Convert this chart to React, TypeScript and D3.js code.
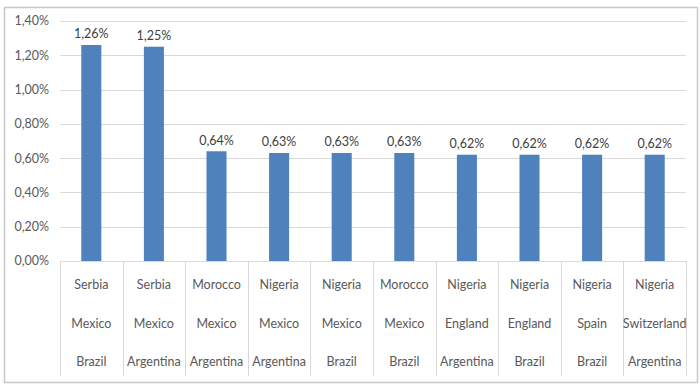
import { useEffect, useRef } from "react"
import * as d3 from "d3"

// three-level category labels (top row to bottom row)
const level1 = ["Serbia", "Serbia", "Morocco", "Nigeria", "Nigeria", "Morocco", "Nigeria", "Nigeria", "Nigeria", "Nigeria"]
const level2 = ["Mexico", "Mexico", "Mexico", "Mexico", "Mexico", "Mexico", "England", "England", "Spain", "Switzerland"]
const level3 = ["Brazil", "Argentina", "Argentina", "Argentina", "Brazil", "Brazil", "Argentina", "Brazil", "Brazil", "Argentina"]
const values = [1.26, 1.25, 0.64, 0.63, 0.63, 0.63, 0.62, 0.62, 0.62, 0.62]
const yTicks = [0, 0.2, 0.4, 0.6, 0.8, 1.0, 1.2, 1.4]

const fmt = (v: number) => v.toFixed(2).replace(".", ",") + "%"

export default function App() {
  const svgRef = useRef<SVGSVGElement>(null)

  useEffect(() => {
    if (!svgRef.current) return
    const svg = d3.select(svgRef.current)
    svg.selectAll("*").remove()

    const width = 700
    const height = 389
    const margin = { top: 21, right: 14, bottom: 128, left: 60 }
    const chartWidth = width - margin.left - margin.right
    const chartHeight = height - margin.top - margin.bottom
    const font = "Lato, 'Open Sans', sans-serif"
    const textColor = "#595959"

    svg.append("rect").attr("width", width).attr("height", height).attr("fill", "#fff")

    // chart border
    svg
      .append("path")
      .attr("d", "M4.5,7.5H697.5V382.5H4.5Z")
      .attr("fill", "none")
      .attr("stroke", "#c8c8c8")
      .attr("stroke-width", 1.5)

    const chart = svg.append("g").attr("transform", `translate(${margin.left}, ${margin.top})`)

    const idx = values.map((_, i) => i)
    const xScale = d3.scaleBand<number>().domain(idx).range([0, chartWidth]).paddingInner(0.68).paddingOuter(0.34)
    const yScale = d3.scaleLinear().domain([0, 1.4]).range([chartHeight, 0])

    // grid lines
    chart
      .append("g")
      .selectAll("line")
      .data(yTicks)
      .enter()
      .append("line")
      .attr("x1", 0)
      .attr("x2", chartWidth)
      .attr("y1", (d) => Math.round(yScale(d)) + 0.5)
      .attr("y2", (d) => Math.round(yScale(d)) + 0.5)
      .attr("stroke", "#d9d9d9")

    // y labels
    chart
      .append("g")
      .selectAll("text")
      .data(yTicks)
      .enter()
      .append("text")
      .attr("x", -11)
      .attr("y", (d) => yScale(d))
      .attr("dy", "0.35em")
      .attr("text-anchor", "end")
      .attr("font-family", font)
      .attr("font-size", "12.5px")
      .attr("fill", textColor)
      .text((d) => fmt(d))

    // bars
    chart
      .selectAll(".bar")
      .data(values)
      .enter()
      .append("rect")
      .attr("class", "bar")
      .attr("x", (_, i) => xScale(i)!)
      .attr("y", (d) => yScale(d))
      .attr("width", xScale.bandwidth())
      .attr("height", (d) => chartHeight - yScale(d))
      .attr("fill", "#4f81bd")

    // data labels
    chart
      .selectAll(".lbl")
      .data(values)
      .enter()
      .append("text")
      .attr("class", "lbl")
      .attr("x", (_, i) => xScale(i)! + xScale.bandwidth() / 2)
      .attr("y", (d) => yScale(d) - 11)
      .attr("dy", "0.35em")
      .attr("text-anchor", "middle")
      .attr("font-family", font)
      .attr("font-size", "12.5px")
      .attr("fill", "#404040")
      .text((d) => fmt(d))

    // category separators
    const step = chartWidth / values.length
    chart
      .append("g")
      .selectAll("line")
      .data(d3.range(values.length + 1))
      .enter()
      .append("line")
      .attr("x1", (d) => Math.round(d * step) + 0.5)
      .attr("x2", (d) => Math.round(d * step) + 0.5)
      .attr("y1", chartHeight)
      .attr("y2", chartHeight + 115)
      .attr("stroke", "#d9d9d9")

    // category labels
    const rows = [level1, level2, level3]
    const rowY = [24, 62.5, 101]
    rows.forEach((row, r) => {
      chart
        .append("g")
        .selectAll("text")
        .data(row)
        .enter()
        .append("text")
        .attr("x", (_, i) => (i + 0.5) * step)
        .attr("y", chartHeight + rowY[r])
        .attr("dy", "0.35em")
        .attr("text-anchor", "middle")
        .attr("font-family", font)
        .attr("font-size", "12.5px")
        .attr("fill", textColor)
        .text((d) => d)
    })
  }, [])

  return (
    <div style={{ position: "absolute", left: 0, top: 0 }}>
      <svg ref={svgRef} width={700} height={389} style={{ display: "block" }} />
    </div>
  )
}
